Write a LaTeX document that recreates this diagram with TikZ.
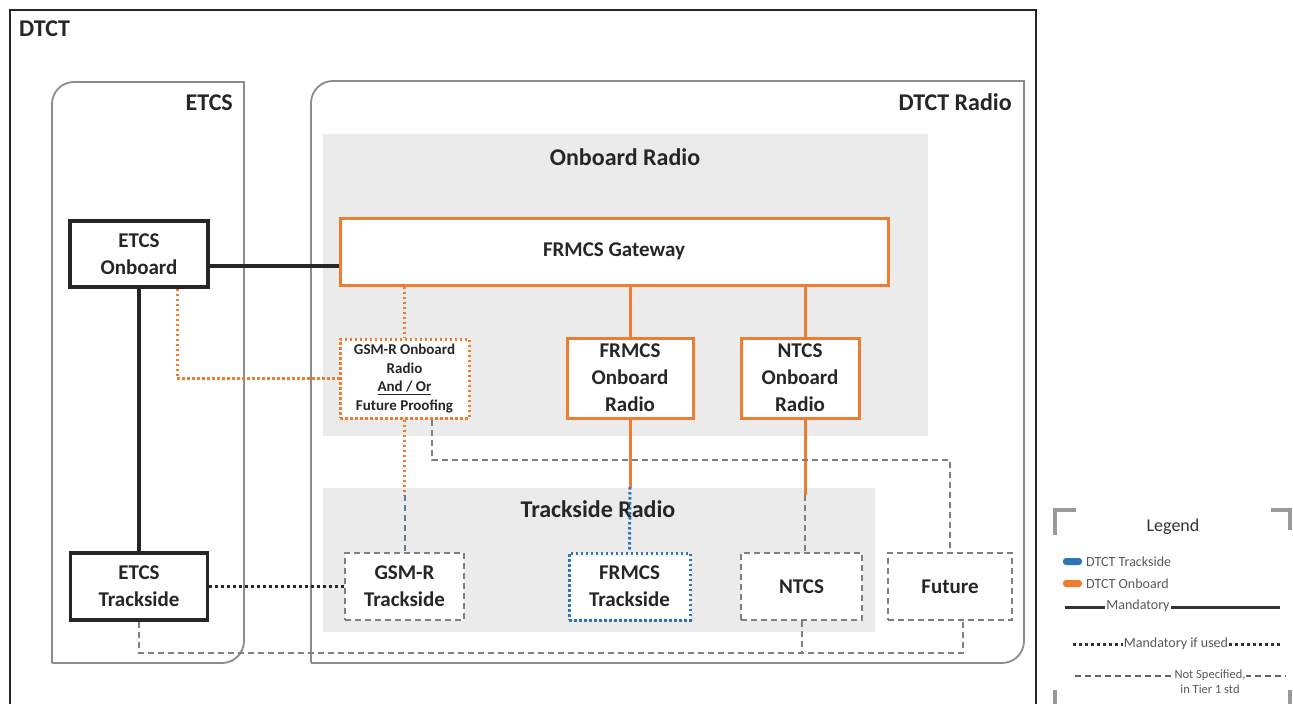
\documentclass[tikz,border=0pt]{standalone}
\usepackage{fontspec}
\setmainfont{Carlito}
\definecolor{org}{HTML}{ED7D31}
\definecolor{blu}{HTML}{2E75B6}
\definecolor{panel}{HTML}{EBEBEB}
\definecolor{frame}{HTML}{8C8C8C}
\definecolor{dash}{HTML}{7F7F7F}
\definecolor{txt}{HTML}{262626}
\definecolor{legtxt}{HTML}{595959}
\begin{document}
\begin{tikzpicture}[x=1pt,y=-1pt,
  boxtxt/.style={font=\bfseries\fontsize{21}{27}\selectfont, align=center, text=txt, inner sep=0pt},
  title/.style={font=\bfseries\fontsize{24}{28}\selectfont, text=txt, inner sep=0pt},
  blackbox/.style={boxtxt, draw=black!85, line width=3.5pt, fill=white},
  orgbox/.style={boxtxt, draw=org, line width=3pt, fill=white},
  orgdotbox/.style={draw=org, line width=3pt, dash pattern=on 2.5pt off 2.5pt, fill=white, align=center, text=txt, inner sep=0pt, font=\bfseries\fontsize{15}{18.5}\selectfont},
  graydashbox/.style={boxtxt, draw=dash, line width=2pt, dash pattern=on 6pt off 4pt, fill=white},
  bluedotbox/.style={boxtxt, draw=blu, line width=3pt, dash pattern=on 2.5pt off 2.5pt, fill=white},
  frameline/.style={draw=frame, line width=1.8pt},
  solidblack/.style={draw=black!85, line width=3.5pt},
  dotblack/.style={draw=black!85, line width=3.5pt, dash pattern=on 3pt off 3pt},
  orgsolid/.style={draw=org, line width=3pt},
  orgdot/.style={draw=org, line width=3pt, dash pattern=on 2.5pt off 2.5pt},
  bludot/.style={draw=blu, line width=3pt, dash pattern=on 2.5pt off 2.5pt},
  graydash/.style={draw=dash, line width=2pt, dash pattern=on 6pt off 4pt},
  legtext/.style={font=\fontsize{14}{16}\selectfont, text=legtxt, inner sep=1pt},
  bracket/.style={draw=black!40, line width=4pt}
]
\useasboundingbox (0,0) rectangle (1293,704);
\fill[white] (0,0) rectangle (1293,704);

% outer DTCT frame
\draw[black!85, line width=2.5pt] (10,708) -- (10,10) -- (1036,10) -- (1036,708);
\node[title, anchor=north west] (dtct) at (19,21) {DTCT};

% ETCS frame
\draw[frameline] (52,663) -- (52,300) [rounded corners=22] -- (52,82) -- (150,82) [sharp corners] -- (244,82) -- (244,300) [rounded corners=22] -- (244,663) -- (150,663) [sharp corners] -- (52,663);
\node[title, anchor=north east] (etcs) at (233,95) {ETCS};

% DTCT Radio frame
\draw[frameline] (311,663) -- (311,300) [rounded corners=22] -- (311,81) -- (600,81) [sharp corners] -- (1024,81) -- (1024,300) [rounded corners=22] -- (1024,663) -- (600,663) [sharp corners] -- (311,663);
\node[title, anchor=north east] (radio) at (1012,93) {DTCT Radio};

% panels
\fill[panel] (323,134) rectangle (928,436);
\fill[panel] (323,488) rectangle (875,632);
\node[title] (obr) at (625,157) {Onboard Radio};
\node[title] (tsr) at (598,509) {Trackside Radio};

% boxes
\node[blackbox, minimum width=138, minimum height=66] (etcsOn) at (139,254) {ETCS\\Onboard};
\node[blackbox, minimum width=137, minimum height=67] (etcsTr) at (139,586.5) {ETCS\\Trackside};
\node[orgbox, minimum width=548, minimum height=67] (gw) at (614,251.5) {FRMCS Gateway};
\node[orgdotbox, minimum width=129, minimum height=79] (gsmOn) at (404.5,378.5) {GSM-R Onboard\\Radio\\\underline{And / Or}\\Future Proofing};
\node[orgbox, minimum width=126, minimum height=80] (frOn) at (630,378) {FRMCS\\Onboard\\Radio};
\node[orgbox, minimum width=118, minimum height=80] (ntOn) at (800,378) {NTCS\\Onboard\\Radio};
\node[graydashbox, minimum width=119, minimum height=67] (gsmTr) at (404.5,586.5) {GSM-R\\Trackside};
\node[bluedotbox, minimum width=121, minimum height=67] (frTr) at (629.5,586.5) {FRMCS\\Trackside};
\node[graydashbox, minimum width=121, minimum height=67] (ntTr) at (801.5,586.5) {NTCS};
\node[graydashbox, minimum width=124, minimum height=67] (fut) at (950,586.5) {Future};

% junction coordinates
\coordinate (eo) at ([yshift=-12pt]etcsOn.east);
\coordinate (eod) at ([xshift=38pt]etcsOn.south);
\coordinate (gsd) at ([xshift=27.5pt]gsmOn.south);
\coordinate (fus) at ([xshift=13pt]fut.south);
\coordinate (jg) at (404.5,495);
\coordinate (jf) at (630,487);
\coordinate (jn) at (805,495);

% connectors
\draw[solidblack] (eo) -- (gw.west |- eo);
\draw[solidblack] (etcsOn.south) -- (etcsTr.north);
\draw[dotblack] (etcsTr.east) -- (gsmTr.west);
\draw[orgdot] (eod) |- (gsmOn.west);
\draw[orgdot] (gw.south -| gsmOn.north) -- (gsmOn.north);
\draw[orgsolid] (gw.south -| frOn.north) -- (frOn.north);
\draw[orgsolid] (gw.south -| jn) -- (jn |- ntOn.north);
\draw[orgdot] (gsmOn.south) -- (jg);
\draw[draw=blu!45!dash, line width=2pt, dash pattern=on 6pt off 4pt] (jg) -- (gsmTr.north);
\draw[orgsolid] (frOn.south) -- (jf);
\draw[bludot] (jf) -- (frTr.north);
\draw[orgsolid] (jn |- ntOn.south) -- (jn);
\draw[graydash] (jn) -- (jn |- ntTr.north);
\draw[graydash] (gsd) |- (fut.north |- 0,460) -- (fut.north);
\draw[graydash] (etcsTr.south) |- (fus |- 0,653) -- (fus);
\draw[graydash] (ntTr.south) -- (ntTr.south |- 0,653);

% legend
\draw[bracket] (1055,535) -- (1055,510) -- (1076,510);
\draw[bracket] (1271,510) -- (1290,510) -- (1290,530);
\draw[bracket] (1055,690) -- (1055,706);
\draw[bracket] (1290,690) -- (1290,706);
\node[font=\fontsize{18}{20}\selectfont, text=black!80, inner sep=0pt] (leg) at (1173,527) {Legend};
\fill[blu, rounded corners=3] (1063,558) rectangle (1082,565);
\node[legtext, anchor=west] (lt) at (1085,561.5) {DTCT Trackside};
\fill[org, rounded corners=3] (1063,580) rectangle (1082,587);
\node[legtext, anchor=west] (lo) at (1085,583.5) {DTCT Onboard};
\draw[draw=black!80, line width=3pt] (1065,607) -- (1280,607);
\node[legtext, fill=white] (lm) at (1138,606) {Mandatory};
\draw[draw=black!80, line width=3pt, dash pattern=on 3pt off 3pt] (1073,644) -- (1282,644);
\node[legtext, fill=white] (lmu) at (1176,644) {Mandatory if used};
\draw[draw=black!60, line width=1.5pt, dash pattern=on 6pt off 4pt] (1075,676) -- (1286,676);
\node[legtext, fill=white, align=center, font=\fontsize{12.5}{15}\selectfont] (lns) at (1210,682) {Not Specified,\\in Tier 1 std};
\end{tikzpicture}
\end{document}
